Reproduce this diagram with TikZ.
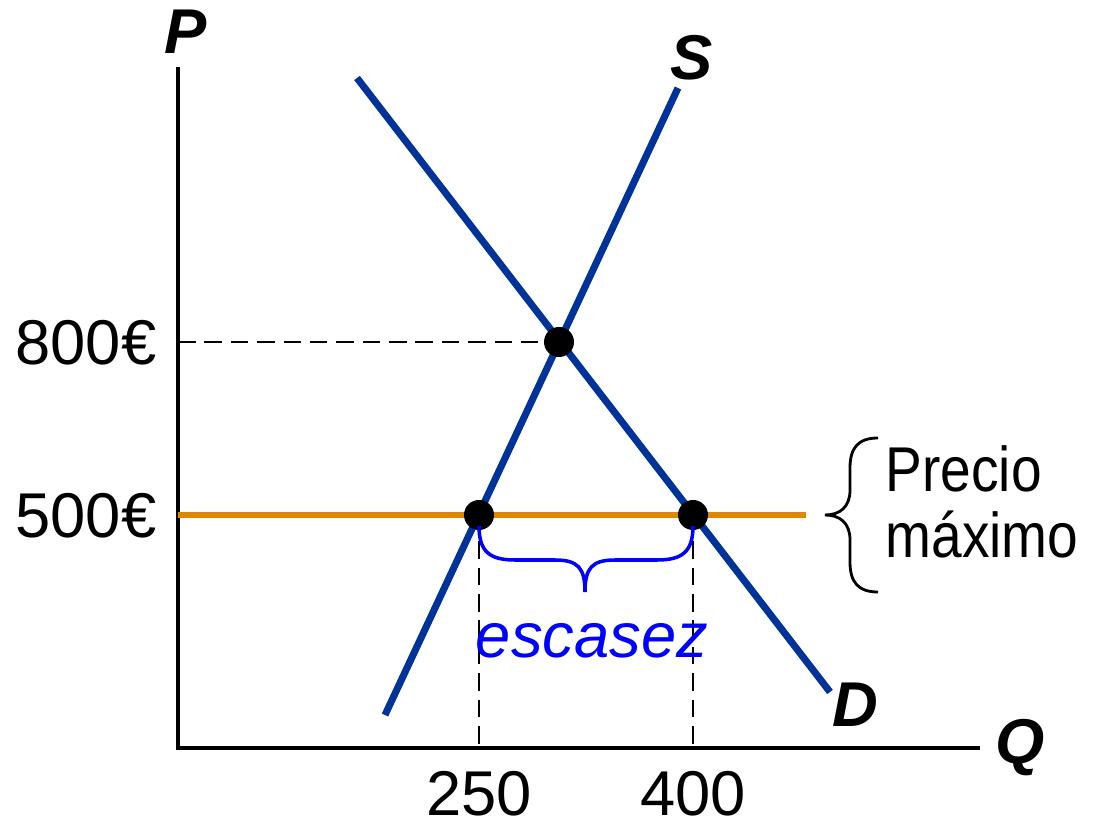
\documentclass[tikz,border=0pt]{standalone}
\usepackage{fontspec}
\usepackage{graphicx}
\setmainfont{Liberation Sans}
\definecolor{curveblue}{RGB}{0,51,153}
\definecolor{ceilorange}{RGB}{221,136,0}
\definecolor{brblue}{RGB}{0,0,255}
\begin{document}
\begin{tikzpicture}[x=0.01cm,y=-0.01cm,
  lbl/.style={font=\fontsize{18}{22}\selectfont, inner sep=0pt},
  axlbl/.style={font=\fontsize{18}{22}\selectfont\bfseries\itshape, inner sep=0pt},
  axis/.style={line width=1pt, black},
  curve/.style={line width=2pt, curveblue},
  ceil/.style={line width=1.7pt, ceilorange},
  guide/.style={line width=0.6pt, black, dash pattern=on 5pt off 2.5pt},
  dot/.style={circle, fill=black, minimum size=0.3cm, inner sep=0pt},
  bracepath/.style={line width=0.8pt}]
\useasboundingbox (0,0) rectangle (1094,822);
% axes
\coordinate (O) at (178,748);
\coordinate (Ytop) at (178,67);
\coordinate (Xend) at (980,748);
\draw[axis] (Ytop) -- (O) -- (Xend);
% points
\coordinate (Sb) at (385,715);
\coordinate (St) at (678,88);
\coordinate (Dt) at (357,78);
\coordinate (Db) at (830,692);
\coordinate (C0) at (178,515);
\coordinate (C1) at (806,515);
\coordinate (Y8) at (178,342);
\coordinate (X250) at (479,748);
\coordinate (X400) at (693,748);
% dashed guides
\draw[guide] (Y8) -- (559,342);
\draw[guide] (479,515) -- (X250);
\draw[guide] (693,515) -- (X400);
% ceiling
\draw[ceil] (C0) -- (C1);
% curves
\draw[curve] (Sb) -- (St);
\draw[curve] (Dt) -- (Db);
% dots
\node[dot] (E) at (559,342) {};
\node[dot] (A) at (479,515) {};
\node[dot] (B) at (693,515) {};
% blue brace
\draw[bracepath, brblue, line width=1pt] (479,526) .. controls (479,552) and (490,560) .. (515,560)
  -- (555,560) .. controls (578,560) and (585,568) .. (585,592)
  .. controls (585,568) and (592,560) .. (615,560)
  -- (657,560) .. controls (682,560) and (693,552) .. (693,526);
% black brace
\draw[bracepath] (878,438) .. controls (858,438) and (850,448) .. (850,468)
  -- (850,490) .. controls (850,507) and (840,515) .. (825,515)
  .. controls (840,515) and (850,523) .. (850,540)
  -- (850,562) .. controls (850,582) and (858,592) .. (878,592);
% labels
\node[axlbl] (P) at (186,32) {P};
\node[axlbl] (S) at (692,58) {S};
\node[axlbl] (D) at (855,705) {D};
\node[axlbl] (Q) at (1020,748) {Q};
\node[lbl, anchor=east] (l800) at (157,343) {800€};
\node[lbl, anchor=east] (l500) at (157,516) {500€};
\node[lbl] (l250) at (479,794) {250};
\node[lbl] (l400) at (693,794) {400};
\node[lbl, anchor=base west] (pr) at (885,492) {\scalebox{0.87}[1]{Precio}};
\node[lbl, anchor=base west] (mx) at (885,558) {\scalebox{0.87}[1]{máximo}};
\node[lbl, anchor=base, text=brblue, font=\fontsize{18}{22}\selectfont\itshape] (esc) at (592,657) {escasez};
\end{tikzpicture}
\end{document}
